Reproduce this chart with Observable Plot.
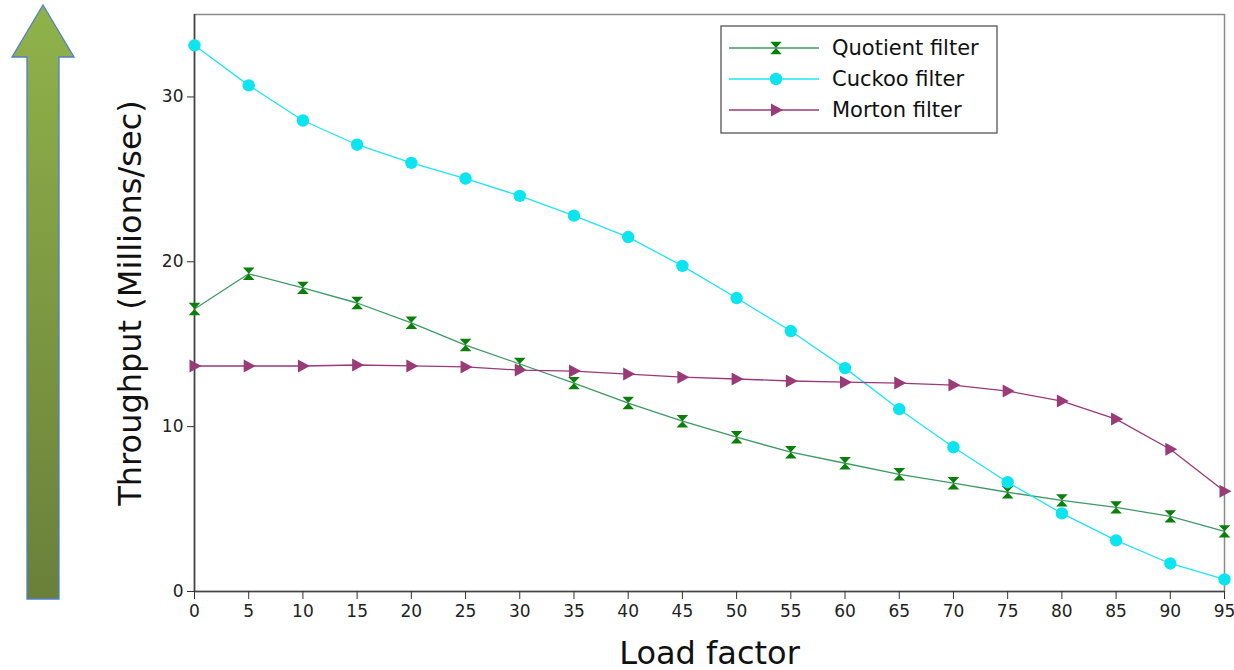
<!DOCTYPE html>
<html>
<head>
<meta charset="utf-8">
<script src="https://cdn.jsdelivr.net/npm/d3@7"></script>
<script src="https://cdn.jsdelivr.net/npm/@observablehq/plot@0.6"></script>
<style>
  html, body { margin: 0; padding: 0; background: #fff; }
  #chart { position: relative; width: 1234px; height: 670px; }
</style>
</head>
<body>
<div id="chart"></div>
<script>
const loadFactors = [0,5,10,15,20,25,30,35,40,45,50,55,60,65,70,75,80,85,90,95];
const quotient = [17.14,19.27,18.42,17.5,16.3,14.95,13.8,12.64,11.43,10.33,9.36,8.45,7.78,7.11,6.57,6.02,5.53,5.1,4.56,3.65];
const cuckoo = [33.13,30.7,28.57,27.1,26.0,25.05,24.0,22.8,21.5,19.75,17.8,15.8,13.55,11.06,8.75,6.63,4.74,3.1,1.7,0.73];
const morton = [13.68,13.68,13.68,13.74,13.68,13.62,13.43,13.37,13.19,13.0,12.89,12.77,12.7,12.64,12.52,12.16,11.55,10.46,8.63,6.08];
const seriesNames = ["Quotient filter", "Cuckoo filter", "Morton filter"];
const xTicks = [0,5,10,15,20,25,30,35,40,45,50,55,60,65,70,75,80,85,90,95];
const yTicks = [0,10,20,30];
const xLabel = "Load factor";
const yLabel = "Throughput (Millions/sec)";

const lineColors = {"Quotient filter": "#3f9a66", "Cuckoo filter": "#1ee6f0", "Morton filter": "#9a3a78"};
const markColors = {"Quotient filter": "#0a800a", "Cuckoo filter": "#0ce4f0", "Morton filter": "#9a3a78"};

// custom symbols
const hourglass = {
  draw(ctx, size) {
    const w = 5.8, h = 6.2;
    ctx.moveTo(-w, -h); ctx.lineTo(w, -h); ctx.lineTo(0, 0); ctx.closePath();
    ctx.moveTo(-w, h); ctx.lineTo(w, h); ctx.lineTo(0, 0); ctx.closePath();
  }
};
const rightTri = {
  draw(ctx, size) {
    const w = 6, h = 6.5;
    ctx.moveTo(-w + 1, -h); ctx.lineTo(w + 1, 0); ctx.lineTo(-w + 1, h); ctx.closePath();
  }
};
const circleSym = {
  draw(ctx, size) { ctx.moveTo(6.2, 0); ctx.arc(0, 0, 6.2, 0, 2 * Math.PI); }
};
const symbols = {"Quotient filter": hourglass, "Cuckoo filter": circleSym, "Morton filter": rightTri};

const data = [];
[quotient, cuckoo, morton].forEach((vals, i) => {
  vals.forEach((v, j) => data.push({series: seriesNames[i], x: loadFactors[j], y: v}));
});

const font = "DejaVu Sans, Verdana, sans-serif";

const marks = [
  Plot.frame({stroke: "#8a8a8a", strokeWidth: 1.5}),
  Plot.ruleY([0], {stroke: "#444", strokeWidth: 1.6}),
  Plot.ruleX([0], {stroke: "#444", strokeWidth: 1.6}),
  Plot.axisX({ticks: xTicks, tickSize: 8, tickPadding: 5, fontSize: 17, label: null, stroke: "#333", color: "#222"}),
  Plot.axisY({ticks: yTicks, tickSize: 7, tickPadding: 4, fontSize: 17, label: null, stroke: "#333", color: "#222"}),
];
for (const s of seriesNames) {
  const sub = data.filter(d => d.series === s);
  marks.push(Plot.line(sub, {x: "x", y: "y", stroke: lineColors[s], strokeWidth: 1.3}));
}
for (const s of seriesNames) {
  const sub = data.filter(d => d.series === s);
  marks.push(Plot.dot(sub, {x: "x", y: "y", symbol: () => symbols[s], r: 6, fill: markColors[s], stroke: "none"}));
}
marks.push(Plot.text([xLabel], {frameAnchor: "bottom", dy: 72, fontSize: 32, fill: "#111", textAnchor: "middle", text: d => d}));
marks.push(Plot.text([yLabel], {frameAnchor: "left", dx: -64, rotate: -90, fontSize: 32, fill: "#111", textAnchor: "middle", text: d => d}));

const chart = Plot.plot({
  width: 1234,
  height: 670,
  marginLeft: 194,
  marginRight: 10,
  marginTop: 14,
  marginBottom: 79,
  style: {fontFamily: font, background: "#fff", overflow: "visible"},
  x: {domain: [0, 95]},
  y: {domain: [0, 35]},
  symbol: {type: "identity"},
  marks
});
document.getElementById("chart").appendChild(chart);

// decorative arrow and legend
const svg = d3.select(chart);
const defs = svg.append("defs");
const grad = defs.append("linearGradient").attr("id", "arrowGrad").attr("x1", 0).attr("y1", 0).attr("x2", 0).attr("y2", 1);
grad.append("stop").attr("offset", "0%").attr("stop-color", "#90b24a");
grad.append("stop").attr("offset", "100%").attr("stop-color", "#6a803a");
svg.append("path")
  .attr("d", "M43,5 L74,57 L59,57 L59,599 L27,599 L27,57 L12,57 Z")
  .attr("fill", "url(#arrowGrad)")
  .attr("stroke", "#4f81c7")
  .attr("stroke-width", 1.3);

const lg = svg.append("g").attr("font-family", font).attr("text-anchor", "start");
lg.append("rect").attr("x", 721).attr("y", 26).attr("width", 276).attr("height", 107)
  .attr("fill", "#fff").attr("stroke", "#555").attr("stroke-width", 1.3);
seriesNames.forEach((s, i) => {
  const yy = 48 + i * 31;
  lg.append("line").attr("x1", 729).attr("x2", 819).attr("y1", yy).attr("y2", yy)
    .attr("stroke", lineColors[s]).attr("stroke-width", 1.3);
  const p = d3.path();
  symbols[s].draw(p, 36);
  lg.append("path").attr("d", p.toString()).attr("transform", `translate(776,${yy})`).attr("fill", markColors[s]);
  lg.append("text").attr("x", 832).attr("y", yy).attr("dy", "0.35em").attr("font-size", 21)
    .attr("text-anchor", "start").attr("fill", "#111").text(s);
});
</script>
</body>
</html>
